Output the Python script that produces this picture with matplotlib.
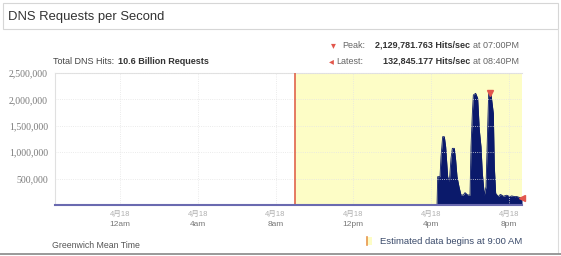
import numpy as np
import matplotlib.pyplot as plt
from matplotlib.patches import Rectangle

# data ---------------------------------------------------------------
# hours since 12am (gmt); the chart spans 8:40pm of the day before up to 8:40pm
hours = [-3.333, 16.30, 16.333, 16.453, 16.504, 16.590, 16.676, 16.744, 16.847, 16.933,
         17.018, 17.087, 17.190, 17.258, 17.327, 17.429, 17.532, 17.652, 17.738, 17.875,
         17.995, 18.046, 18.115, 18.166, 18.286, 18.389, 18.474, 18.560, 18.629, 18.731,
         18.817, 18.903, 18.954, 19.0, 19.074, 19.194, 19.245, 19.314, 19.451, 19.55,
         19.622, 19.70, 19.793, 19.88, 19.965, 20.05, 20.136, 20.22, 20.307, 20.39,
         20.479, 20.56, 20.667]
hits = [0, 0, 537000, 537000, 915000, 1294000, 1294000, 1105000, 537000, 442000,
        884000, 1073000, 1073000, 852000, 537000, 347000, 189000, 189000, 234000, 189000,
        189000, 1105000, 1736000, 2083000, 2115000, 2020000, 1420000, 1105000, 600000, 189000,
        347000, 1484000, 2115000, 2129781.763, 2100000, 1736000, 726000, 221000, 158000, 200000,
        189000, 165000, 175000, 185000, 170000, 160000, 172000, 165000, 158000, 162000,
        150000, 140000, 132845.177]

tick_hours = [0, 4, 8, 12, 16, 20]
tick_times = ['12am', '4am', '8am', '12pm', '4pm', '8pm']
tick_date = '4月18'
y_ticks = [500000, 1000000, 1500000, 2000000, 2500000]
estimate_start = 9.0
peak_hour, peak_val = 19.0, 2129781.763
latest_hour, latest_val = 20.667, 132845.177

W, H = 561, 256


def fx(px):
    return px / W


def fy(py):
    return 1 - py / H


plt.rcParams['font.family'] = ['Liberation Sans', 'Noto Sans CJK SC', 'DejaVu Sans']

fig = plt.figure(figsize=(W / 100, H / 100), dpi=100)
fig.patch.set_facecolor('white')

# panel frame
fig.add_artist(Rectangle((fx(3), fy(29)), fx(555), 26 / H, transform=fig.transFigure,
                         facecolor='white', edgecolor='#d6d6d6', lw=0.8))
fig.add_artist(plt.Line2D([fx(558), fx(558)], [fy(29), fy(253)], transform=fig.transFigure,
                          color='#dcdcdc', lw=0.8))
fig.add_artist(plt.Line2D([fx(0), fx(561)], [fy(254), fy(254)], transform=fig.transFigure,
                          color='#888888', lw=1.2))
fig.text(fx(8), fy(17), 'DNS Requests per Second', fontsize=9.4, color='#333333', va='center')

ax = fig.add_axes([fx(55), fy(205), fx(467), 132 / H])
ax.set_xlim(-3.333, 20.667)
ax.set_ylim(0, 2500000)

ax.axvspan(estimate_start, 20.667, color='#fdfdc6', zorder=0)
ax.axvline(estimate_start, color='#e0644c', lw=1.2, zorder=3)
ax.fill_between(hours, hits, 0, color='#0b1a6b', lw=0, zorder=2)
ax.plot(hours, hits, color='#0b1a6b', lw=0.6, zorder=2)

ax.set_xticks(tick_hours)
ax.set_xticklabels([])
ax.set_yticks(y_ticks)
ax.set_yticklabels([f'{v:,}' for v in y_ticks], family='Liberation Serif', fontsize=7, color='#7a7a7a')
ax.tick_params(length=0, pad=5)
ax.grid(True, color='#e4e4e4', lw=0.6, ls=':')
ax.set_axisbelow(False)

for s in ['top', 'left']:
    ax.spines[s].set_color('#e0e0e0')
    ax.spines[s].set_linewidth(0.8)
ax.spines['right'].set_visible(False)
ax.spines['bottom'].set_color('#6a6ab0')
ax.spines['bottom'].set_linewidth(1.5)
ax.spines['bottom'].set_zorder(4)

for h, lab in zip(tick_hours, tick_times):
    ax.annotate(tick_date, (h, 0), xycoords=('data', 'axes fraction'), xytext=(0, -7),
                textcoords='offset points', ha='center', va='center', fontsize=5.5, color='#b0b0b0')
    ax.annotate(lab, (h, 0), xycoords=('data', 'axes fraction'), xytext=(0, -14),
                textcoords='offset points', ha='center', va='center', fontsize=6, color='#777777')

# markers
ax.plot([peak_hour], [peak_val], marker='v', color='#e2574c', ms=5, zorder=5, clip_on=False)
ax.plot([latest_hour], [latest_val], marker='<', color='#e2574c', ms=5, zorder=5, clip_on=False)

# header texts
fig.text(fx(53), fy(61), 'Total DNS Hits:', fontsize=6.5, color='#444444', va='center')
fig.text(fx(118), fy(61), '10.6 Billion Requests', fontsize=6.5, color='#333333', va='center',
         weight='bold')

fig.text(fx(333), fy(45), '▾', fontsize=7, color='#e2574c', va='center', ha='center',
         family='DejaVu Sans')
fig.text(fx(342), fy(45), 'Peak:', fontsize=6.5, color='#666666', va='center')
fig.text(fx(470), fy(45), '2,129,781.763 Hits/sec', fontsize=6.5, color='#333333', va='center',
         ha='right', weight='bold')
fig.text(fx(473), fy(45), 'at 07:00PM', fontsize=6.5, color='#666666', va='center')

fig.text(fx(331), fy(61), '◂', fontsize=7, color='#e2574c', va='center', ha='center',
         family='DejaVu Sans')
fig.text(fx(336), fy(61), 'Latest:', fontsize=6.5, color='#666666', va='center')
fig.text(fx(470), fy(61), '132,845.177 Hits/sec', fontsize=6.5, color='#333333', va='center',
         ha='right', weight='bold')
fig.text(fx(473), fy(61), 'at 08:40PM', fontsize=6.5, color='#666666', va='center')

# footer
fig.text(fx(52), fy(246), 'Greenwich Mean Time', fontsize=6.3, color='#555555', va='center')
fig.add_artist(Rectangle((fx(367), fy(245)), 5 / W, 8 / H, transform=fig.transFigure,
                         facecolor='#fdfdc6', edgecolor='none'))
fig.add_artist(plt.Line2D([fx(367), fx(367)], [fy(245), fy(237)], transform=fig.transFigure,
                          color='#e8964c', lw=1.2))
fig.text(fx(380), fy(241), 'Estimated data begins at 9:00 AM', fontsize=6.8, color='#3a4a6a',
         va='center')

fig.savefig('out.png', dpi=100)
